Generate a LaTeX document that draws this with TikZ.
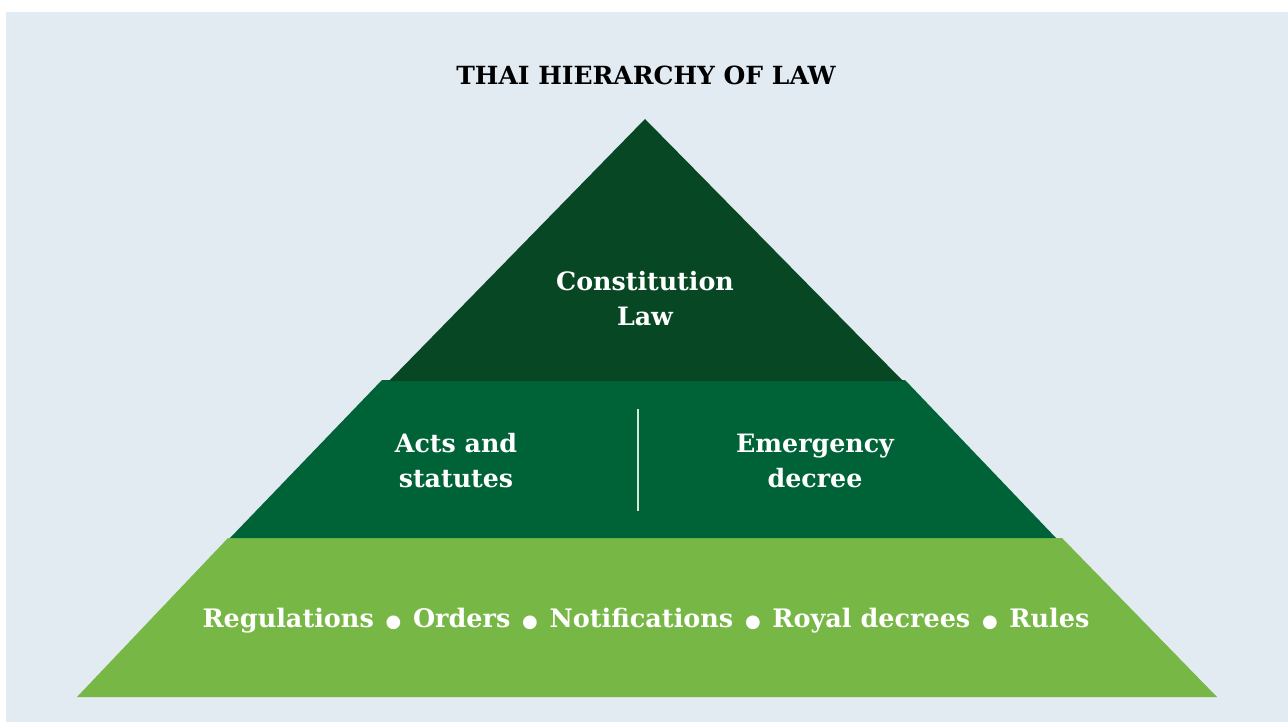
\documentclass[tikz,border=0pt]{standalone}
\usepackage{fontspec}
\setmainfont{DejaVu Serif}
\newfontfamily\symfont{DejaVu Sans}
\definecolor{bgc}{HTML}{E2EBF1}
\definecolor{topc}{HTML}{074723}
\definecolor{midc}{HTML}{006237}
\definecolor{lowc}{HTML}{77B745}
\definecolor{divc}{HTML}{D8E6DE}
\newcommand{\blt}{\hspace{11.7pt}{\symfont\fontsize{18}{18}\selectfont ●}\hspace{11.7pt}}
\begin{document}
\begin{tikzpicture}[x=1pt,y=-1pt,
  lbl/.style={text=white,font=\bfseries\fontsize{25.3}{35}\selectfont,align=center,inner sep=0pt},
  ttl/.style={text=black,font=\bfseries\fontsize{25}{28}\selectfont,inner sep=0pt}]
\useasboundingbox (0,0) rectangle (1288,722);
\fill[bgc] (6,12) rectangle (1288,722);
\fill[lowc] (228,538) -- (1062,538) -- (1217,697) -- (77,697) -- cycle;
\fill[midc] (382,380) -- (905,380) -- (1056,538) -- (230,538) -- cycle;
\fill[topc] (645,119) -- (903,381) -- (389,381) -- cycle;
\draw[divc,line width=1.3pt] (638,409) -- (638,511);
\node[ttl,anchor=base] (title) at (646,85) {THAI HIERARCHY OF LAW};
\node[lbl] (const) at (645,299) {Constitution\\Law};
\node[lbl] (acts) at (456,461) {Acts and\\statutes};
\node[lbl] (emerg) at (815,461) {Emergency\\decree};
\node[lbl,anchor=base,font=\bfseries\fontsize{25.5}{35}\selectfont] (low) at (646,627) {Regulations\blt Orders\blt Notifications\blt Royal decrees\blt Rules};
\end{tikzpicture}
\end{document}
